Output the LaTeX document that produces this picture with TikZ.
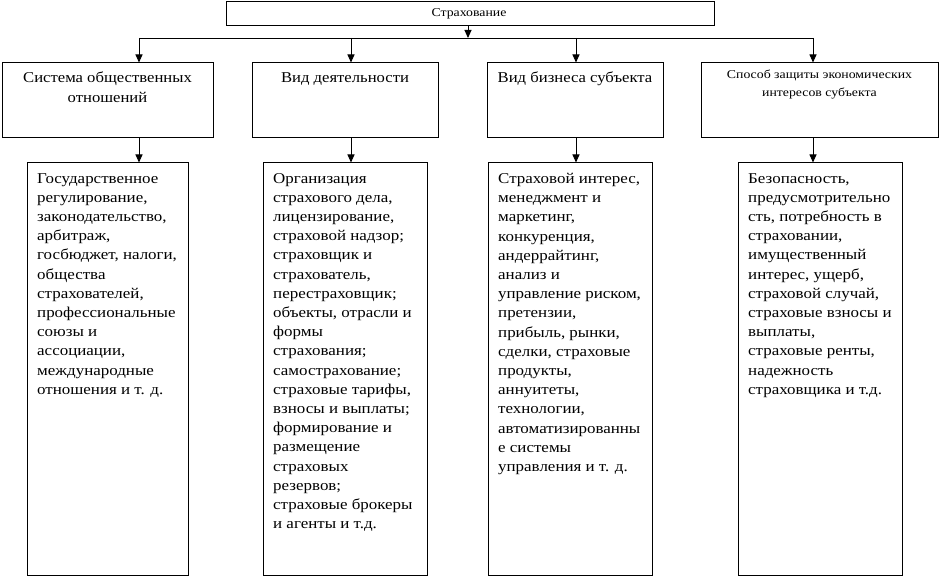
\documentclass[tikz,border=0pt]{standalone}
\usepackage{fontspec}
\setmainfont{Liberation Serif}
\newfontfamily\bodyfont[FakeStretch=1.13]{Liberation Serif}
\newfontfamily\headfont[FakeStretch=1.11]{Liberation Serif}
\newfontfamily\smallfont[FakeStretch=1.15]{Liberation Serif}
\usetikzlibrary{arrows.meta,calc}
\begin{document}
\begin{tikzpicture}[x=1pt,y=-1pt,
  box/.style={draw,line width=1pt,inner sep=0pt,rectangle},
  arr/.style={line width=0.9pt,-{Triangle[width=7pt,length=8pt]}},
  bus/.style={line width=0.9pt},
  txt/.style={inner sep=0pt,align=left,anchor=north west,font=\bodyfont\fontsize{15}{19.2}\selectfont},
  htxt/.style={inner sep=0pt,align=center,anchor=north,font=\headfont\fontsize{15}{19.5}\selectfont},
  stxt/.style={inner sep=0pt,align=center,anchor=north,font=\smallfont\fontsize{12}{18}\selectfont}]
\useasboundingbox (0,0) rectangle (940,577);
\node[box,minimum width=488pt,minimum height=24pt] (top) at (470,14) {};
\node[stxt] (toptxt) at (469,8) {Страхование};
\node[box,minimum width=211pt,minimum height=75pt] (h1) at (107.5,100.5) {};
\node[box,minimum width=186pt,minimum height=75pt] (h2) at (345,100.5) {};
\node[box,minimum width=176pt,minimum height=75pt] (h3) at (575,100.5) {};
\node[box,minimum width=237pt,minimum height=75pt] (h4) at (819.5,100.5) {};
\node[htxt] (h1t) at (107.5,72) {Система общественных\\отношений};
\node[htxt] (h2t) at (345,72) {Вид деятельности};
\node[htxt] (h3t) at (575,72) {Вид бизнеса субъекта};
\node[stxt] (h4t) at (819.5,70) {Способ защиты экономических\\интересов субъекта};
\node[box,minimum width=161pt,minimum height=412pt] (c1) at (107.5,369) {};
\node[box,minimum width=164pt,minimum height=412pt] (c2) at (345,369) {};
\node[box,minimum width=164pt,minimum height=412pt] (c3) at (570,369) {};
\node[box,minimum width=164pt,minimum height=412pt] (c4) at (820,369) {};
\node[txt] (c1t) at (37,173) {Государственное\\регулирование,\\законодательство,\\арбитраж,\\госбюджет, налоги,\\общества\\страхователей,\\профессиональные\\союзы и\\ассоциации,\\международные\\отношения и т. д.};
\node[txt] (c2t) at (273,173) {Организация\\страхового дела,\\лицензирование,\\страховой надзор;\\страховщик и\\страхователь,\\перестраховщик;\\объекты, отрасли и\\формы\\страхования;\\самострахование;\\страховые тарифы,\\взносы и выплаты;\\формирование и\\размещение\\страховых\\резервов;\\страховые брокеры\\и агенты и т.д.};
\node[txt] (c3t) at (498,173) {Страховой интерес,\\менеджмент и\\маркетинг,\\конкуренция,\\андеррайтинг,\\анализ и\\управление риском,\\претензии,\\прибыль, рынки,\\сделки, страховые\\продукты,\\аннуитеты,\\технологии,\\автоматизированны\\е системы\\управления и т. д.};
\node[txt] (c4t) at (748,173) {Безопасность,\\предусмотрительно\\сть, потребность в\\страховании,\\имущественный\\интерес, ущерб,\\страховой случай,\\страховые взносы и\\выплаты,\\страховые ренты,\\надежность\\страховщика и т.д.};
\coordinate (b1) at (139,38);
\coordinate (b2) at (351,38);
\coordinate (b3) at (576,38);
\coordinate (b4) at (813,38);
\coordinate (bt) at (468,38);
\draw[bus] (b1) -- (b4);
\draw[arr] (top.south -| bt) -- (bt);
\foreach \i in {1,2,3,4} {
  \draw[arr] (b\i) -- (b\i |- h\i.north);
  \draw[arr] (h\i.south -| b\i) -- (c\i.north -| b\i);
}
\end{tikzpicture}
\end{document}
